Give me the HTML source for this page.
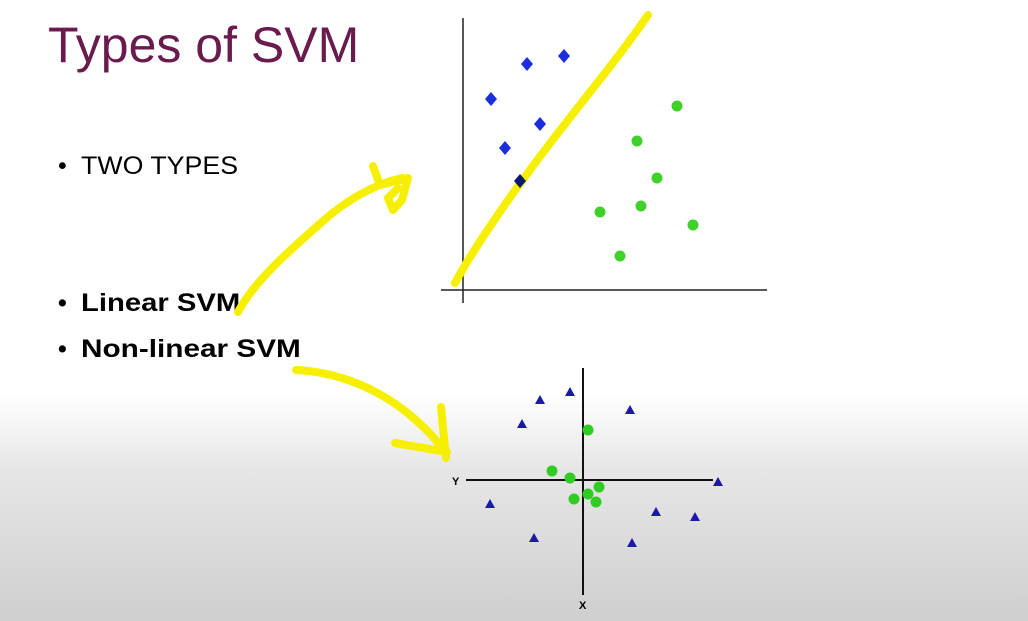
<!DOCTYPE html>
<html><head><meta charset="utf-8"><style>
html,body{margin:0;padding:0;}
body{width:1028px;height:621px;overflow:hidden;position:relative;font-family:"Liberation Sans",sans-serif;
background:linear-gradient(to bottom,#fff 0px,#fff 395px,#e6e6e6 470px,#cfcfcf 621px);}
.t{position:absolute;color:#000;white-space:nowrap;transform-origin:0 50%;}
</style></head><body>
<div class="t" style="left:48px;top:16px;font-size:50px;color:#6a1b4d;">Types of SVM</div>
<div class="t" style="left:58px;top:152px;font-size:25px;">•&nbsp; <span style="display:inline-block;transform:scaleX(1.07);transform-origin:0 50%">TWO TYPES</span></div>
<div class="t" style="left:58px;top:289px;font-size:25px;font-weight:bold;">•&nbsp; <span style="display:inline-block;transform:scaleX(1.17);transform-origin:0 50%">Linear SVM</span></div>
<div class="t" style="left:58px;top:335px;font-size:25px;font-weight:bold;">•&nbsp; <span style="display:inline-block;transform:scaleX(1.19);transform-origin:0 50%">Non-linear SVM</span></div>
<svg id="s" width="1028" height="621" style="position:absolute;left:0;top:0">
<g stroke="#222" stroke-width="1.5">
<line x1="463" y1="18" x2="463" y2="303"/><line x1="441" y1="290" x2="767" y2="290"/></g>
<g stroke="#111" stroke-width="2">
<line x1="583" y1="368" x2="583" y2="595"/><line x1="466" y1="480" x2="713" y2="480"/></g>
<text x="452" y="485" font-size="11" font-weight="bold" font-family="Liberation Sans">Y</text>
<text x="579" y="609" font-size="11" font-weight="bold" font-family="Liberation Sans">X</text>
<g fill="none" stroke="#f6f000" stroke-width="8" stroke-linecap="round" stroke-linejoin="round">
<path d="M455,283 C470,255 500,210 530,170 C570,115 610,70 648,15"/>
<path d="M238,312 C255,280 290,250 330,215 C355,195 380,183 402,178 M373,166 L380,185 L408,178 L402,200 L393,210 L388,198 L398,188"/>
<path d="M296,370 C340,372 380,390 410,415 C425,428 438,440 446,455 M441,407 L446,458 M395,443 L447,452"/>
</g>
<g id="marks"></g>
</svg>
<script>
const linDiamonds=[[10.1,23.4],[6.4,22.6],[2.8,19.1],[7.7,16.6],[4.2,14.2],[5.7,10.9]];
const linCircles=[[21.4,18.4],[17.4,14.9],[19.4,11.2],[13.7,7.8],[17.8,8.4],[23,6.5],[15.7,3.4]];
const nlTriangles=[[-4.3,8],[-1.3,8.8],[4.7,7],[-6.1,5.6],[-9.3,-2.4],[-4.9,-5.8],[4.9,-6.3],[7.3,-3.2],[11.2,-3.7],[13.5,-0.2]];
const nlCircles=[[0.5,5],[-3.1,0.9],[-1.3,0.2],[1.6,-0.7],[0.5,-1.4],[-0.9,-1.9],[1.3,-2.2]];
const NS="http://www.w3.org/2000/svg";
const g=document.getElementById('marks');
const lx=v=>463+v*10, ly=v=>290-v*10;
const nx=v=>583+v*10, ny=v=>480-v*10;
function add(tag,attrs){const e=document.createElementNS(NS,tag);for(const k in attrs)e.setAttribute(k,attrs[k]);g.appendChild(e);return e;}
linDiamonds.forEach((d,i)=>{const x=lx(d[0]),y=ly(d[1]);
 const e=add('polygon',{points:`${x},${y-7} ${x+6},${y} ${x},${y+7} ${x-6},${y}`,fill:i===5?'#0a1a70':'#1a2ee0'});
 
 });
linCircles.forEach(d=>{const e=add('circle',{cx:lx(d[0]),cy:ly(d[1]),r:5.5,fill:'#3fd12a'});
 
 });
nlTriangles.forEach(d=>{const x=nx(d[0]),y=ny(d[1]);
 const e=add('polygon',{points:`${x},${y-5} ${x+5},${y+4} ${x-5},${y+4}`,fill:'#1a1aa8'});
 
 });
nlCircles.forEach(d=>{const e=add('circle',{cx:nx(d[0]),cy:ny(d[1]),r:5.5,fill:'#2fcc22'});
 
 });
</script>
</body></html>
